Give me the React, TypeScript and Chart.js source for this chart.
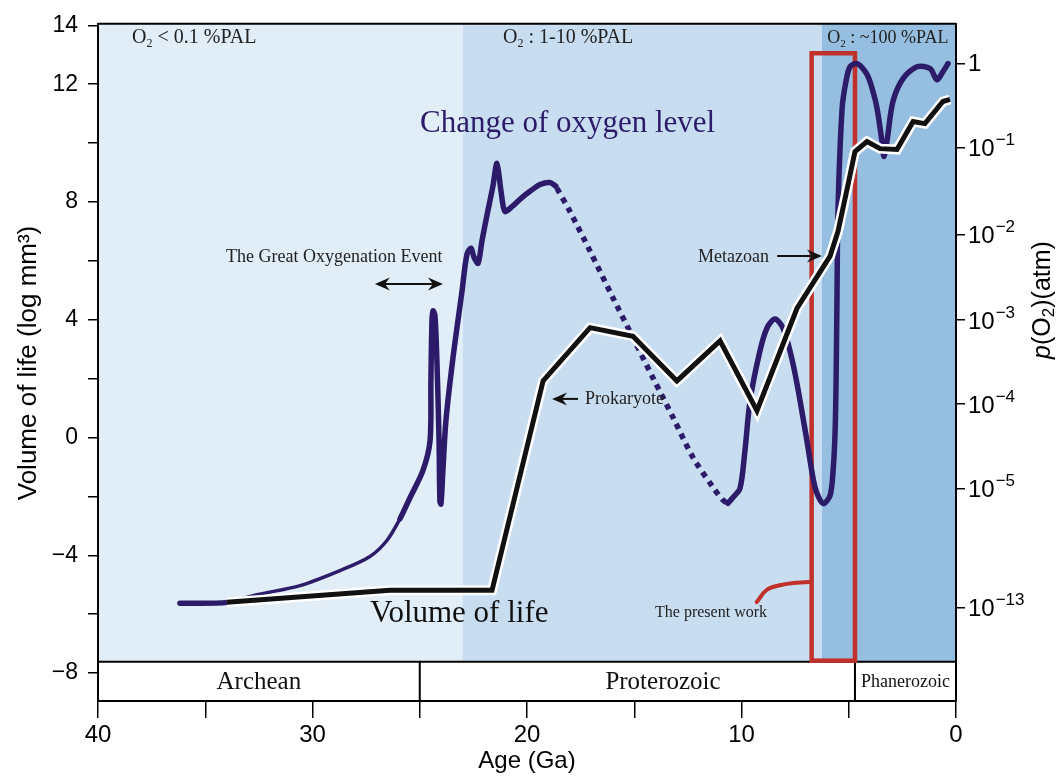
import React, { useEffect, useRef } from 'react';
import { Chart, registerables } from 'chart.js';

Chart.register(...registerables);

// ---------- data (age in the axis unit, value in log mm^3 on the left axis) ----------
const OXY_A_AGE = [36.18, 33.99, 32.59, 30.58, 28.72, 27.32, 26.53, 25.92, 25.45, 24.85, 24.52, 24.48, 24.43, 24.38, 24.29, 24.2, 24.1, 24.06, 24.01, 23.92, 23.78, 23.45, 23.03, 22.8, 22.61, 22.47, 22.28, 22.1, 21.86, 21.59, 21.4, 21.21, 21.03, 20.7, 20.33, 19.86, 19.39, 18.93, 18.65];
const OXY_A_VAL = [-5.63, -5.6, -5.34, -5.03, -4.52, -4.04, -3.5, -2.76, -2.04, -1.12, -0.11, 1.92, 3.96, 4.3, 4.13, 2.6, -0.11, -2.16, -2.26, -1.12, 0.57, 2.71, 4.97, 6.22, 6.43, 6.12, 5.92, 6.67, 7.57, 8.53, 9.31, 8.36, 7.68, 7.84, 8.09, 8.36, 8.59, 8.66, 8.53];

const OXY_B_AGE = [18.6, 18.0, 17.06, 15.99, 15.06, 14.13, 13.19, 12.26, 11.33, 10.86, 10.63];
const OXY_B_VAL = [8.46, 7.68, 6.33, 4.74, 3.39, 2.03, 0.68, -0.68, -1.69, -2.13, -2.24];

const OXY_C_AGE = [10.63, 10.4, 10.07, 9.84, 9.6, 9.14, 8.81, 8.44, 8.07, 7.74, 7.41, 6.95, 6.57, 6.2, 5.87, 5.73, 5.64, 5.59, 5.55, 5.5, 5.31, 5.13, 4.94, 4.62, 4.15, 3.87, 3.68, 3.45, 3.36, 3.22, 2.94, 2.47, 1.82, 1.21, 0.89, 0.61, 0.37];
const OXY_C_VAL = [-2.24, -2.04, -1.73, -0.45, 1.25, 2.94, 3.72, 4.02, 3.72, 2.94, 1.82, -0.11, -1.7, -2.24, -1.97, -1.13, 0.13, 1.92, 4.63, 7.78, 11.17, 12.09, 12.59, 12.7, 12.33, 11.75, 11.17, 10.05, 9.54, 10.05, 11.41, 12.19, 12.59, 12.53, 12.15, 12.42, 12.7];

const LIFE_AGE = [33.99, 26.39, 21.63, 19.25, 17.06, 15.06, 13.01, 11.0, 9.28, 7.41, 5.87, 5.5, 5.03, 4.71, 4.15, 3.54, 2.75, 2.0, 1.45, 0.61, 0.28];
const LIFE_VAL = [-5.6, -5.19, -5.19, 1.92, 3.73, 3.44, 1.92, 3.28, 0.91, 4.39, 6.16, 7.0, 8.6, 9.71, 10.05, 9.81, 9.78, 10.73, 10.66, 11.41, 11.48];

const WORK_AGE = [9.29, 8.83, 8.21, 7.43, 6.81];
const WORK_VAL = [-5.59, -5.18, -5.02, -4.93, -4.91];

// shaded oxygen-level bands: [fromAge, toAge]
const BAND_FROM = [40, 23, 6.26];
const BAND_TO = [23, 6.26, 0];
const BAND_COLORS = ['#e1edf7', '#c8ddf0', '#96bee1'];

// geological eons
const EON_NAMES = ['Archean', 'Proterozoic', 'Phanerozoic'];
const EON_BOUNDS = [25, 4.71];
const EON_LABEL_AGE = [32.5, 13.66, 2.35];

// the present-work window
const WORK_BOX_AGE = [6.73, 4.71];
const WORK_BOX_VAL = [-7.58, 13.05];

// axes
const X_TICKS = [0, 5, 10, 15, 20, 25, 30, 35, 40];
const X_LABELED = [0, 10, 20, 30, 40];
const Y_TICKS = [-8, -6, -4, -2, 0, 2, 4, 6, 8, 10, 12, 14];
const Y_LABELED = [-8, -4, 0, 4, 8, 12, 14];
const P_TICK_POS = [12.7, 9.85, 6.9, 3.99, 1.14, -1.73, -5.77];
const P_TICK_EXP = [0, -1, -2, -3, -4, -5, -13];
const Y_MIN = -8.95;
const Y_MAX = 14.05;
const TIMESCALE_TOP = -7.62;

const PURPLE = '#2c1b69';
const RED = '#c0312b';
const SANS = '"Liberation Sans", Arial, sans-serif';
const SERIF = '"Liberation Serif", "Times New Roman", serif';

const pts = (a: number[], v: number[]) => a.map((x, i) => ({ x, y: v[i] }));

function arrowHead(ctx: CanvasRenderingContext2D, x: number, y: number, dir: number) {
  ctx.beginPath();
  ctx.moveTo(x, y);
  ctx.lineTo(x - dir * 15, y - 6.5);
  ctx.lineTo(x - dir * 10, y);
  ctx.lineTo(x - dir * 15, y + 6.5);
  ctx.closePath();
  ctx.fill();
}

function drawO2(ctx: CanvasRenderingContext2D, x: number, y: number, rest: string, size: number) {
  ctx.font = `${size}px ${SERIF}`;
  ctx.textBaseline = 'alphabetic';
  ctx.textAlign = 'left';
  ctx.fillText('O', x, y);
  let cx = x + ctx.measureText('O').width;
  ctx.font = `${Math.round(size * 0.62)}px ${SERIF}`;
  ctx.fillText('2', cx, y + 4);
  cx += ctx.measureText('2').width;
  ctx.font = `${size}px ${SERIF}`;
  ctx.fillText(rest, cx, y);
}

const decorPlugin = {
  id: 'decor',
  beforeDraw(chart: any) {
    const { ctx, chartArea: ca, scales } = chart;
    const x = scales.x;
    const y = scales.y;
    ctx.save();
    const boxTop = y.getPixelForValue(TIMESCALE_TOP);
    // bands
    BAND_FROM.forEach((f: number, i: number) => {
      const x0 = x.getPixelForValue(f);
      const x1 = x.getPixelForValue(BAND_TO[i]);
      ctx.fillStyle = BAND_COLORS[i];
      ctx.fillRect(x0, ca.top, x1 - x0, boxTop - ca.top);
    });
    // timescale box
    ctx.fillStyle = '#fff';
    ctx.fillRect(ca.left, boxTop, ca.right - ca.left, ca.bottom - boxTop);
    ctx.strokeStyle = '#000';
    ctx.lineWidth = 2;
    ctx.beginPath();
    ctx.moveTo(ca.left, boxTop);
    ctx.lineTo(ca.right, boxTop);
    EON_BOUNDS.forEach((b) => {
      const bx = x.getPixelForValue(b);
      ctx.moveTo(bx, boxTop);
      ctx.lineTo(bx, ca.bottom);
    });
    ctx.stroke();
    ctx.fillStyle = '#111';
    ctx.textAlign = 'center';
    ctx.textBaseline = 'middle';
    const midY = (boxTop + ca.bottom) / 2;
    EON_NAMES.forEach((n, i) => {
      ctx.font = i === 2 ? `18px ${SERIF}` : `25px ${SERIF}`;
      ctx.fillText(n, x.getPixelForValue(EON_LABEL_AGE[i]), midY + 1);
    });
    // present-work window
    ctx.strokeStyle = RED;
    ctx.lineWidth = 4.5;
    const rx0 = x.getPixelForValue(WORK_BOX_AGE[0]);
    const rx1 = x.getPixelForValue(WORK_BOX_AGE[1]);
    const ry0 = y.getPixelForValue(WORK_BOX_VAL[1]);
    const ry1 = y.getPixelForValue(WORK_BOX_VAL[0]);
    ctx.strokeRect(rx0, ry0, rx1 - rx0, ry1 - ry0);
    // frame top
    ctx.strokeStyle = '#000';
    ctx.lineWidth = 2;
    ctx.beginPath();
    ctx.moveTo(ca.left, ca.top);
    ctx.lineTo(ca.right, ca.top);
    ctx.stroke();
    ctx.restore();
  },
  afterDraw(chart: any) {
    const { ctx, chartArea: ca, scales } = chart;
    const x = scales.x;
    const y = scales.y;
    const y2 = scales.y2;
    const X = (v: number) => x.getPixelForValue(v);
    const Y = (v: number) => y.getPixelForValue(v);
    ctx.save();
    // band headings
    ctx.fillStyle = '#222';
    drawO2(ctx, X(38.41), Y(13.4), ' < 0.1 %PAL', 20);
    drawO2(ctx, X(21.12), Y(13.4), ' : 1-10 %PAL', 20);
    drawO2(ctx, X(6.0), Y(13.4), ' : ~100 %PAL', 18);
    // curve titles
    ctx.font = `31px ${SERIF}`;
    ctx.fillStyle = PURPLE;
    ctx.textAlign = 'left';
    ctx.textBaseline = 'alphabetic';
    ctx.fillText('Change of oxygen level', X(24.99), Y(10.38));
    ctx.fillStyle = '#111';
    ctx.fillText('Volume of life', X(27.32), Y(-6.27));
    // annotations
    ctx.font = `18px ${SERIF}`;
    ctx.fillStyle = '#222';
    ctx.fillText('The Great Oxygenation Event', X(34.03), Y(5.96));
    ctx.fillText('Metazoan', X(12.03), Y(5.96));
    ctx.textBaseline = 'middle';
    ctx.fillText('Prokaryote', X(17.3), Y(1.31));
    ctx.font = `16px ${SERIF}`;
    ctx.fillText('The present work', X(14.03), Y(-5.94));
    // arrows
    ctx.strokeStyle = '#111';
    ctx.fillStyle = '#111';
    ctx.lineWidth = 2;
    const goeY = Y(5.21);
    ctx.beginPath();
    ctx.moveTo(X(27.09) + 8, goeY);
    ctx.lineTo(X(23.92) - 8, goeY);
    ctx.stroke();
    arrowHead(ctx, X(27.09), goeY, -1);
    arrowHead(ctx, X(23.92), goeY, 1);
    const mY = Y(6.16);
    ctx.beginPath();
    ctx.moveTo(X(8.34), mY);
    ctx.lineTo(X(6.25) - 8, mY);
    ctx.stroke();
    arrowHead(ctx, X(6.25), mY, 1);
    const pY = Y(1.31);
    ctx.beginPath();
    ctx.moveTo(X(18.83) + 8, pY);
    ctx.lineTo(X(17.62), pY);
    ctx.stroke();
    arrowHead(ctx, X(18.83), pY, -1);
    // right axis labels
    ctx.fillStyle = '#000';
    ctx.textAlign = 'left';
    ctx.textBaseline = 'middle';
    const lx = ca.right + 12;
    P_TICK_POS.forEach((v, i) => {
      const py = y2.getPixelForValue(v);
      ctx.font = `24px ${SANS}`;
      if (P_TICK_EXP[i] === 0) {
        ctx.fillText('1', lx, py + 1);
      } else {
        ctx.fillText('10', lx, py + 2);
        const w = ctx.measureText('10').width;
        ctx.font = `17px ${SANS}`;
        ctx.fillText('\u2212' + String(-P_TICK_EXP[i]), lx + w + 1, py - 7);
      }
    });
    // axis titles
    ctx.font = `24px ${SANS}`;
    ctx.textAlign = 'center';
    ctx.textBaseline = 'middle';
    ctx.fillText('Age (Ga)', (ca.left + ca.right) / 2, 761);
    ctx.save();
    ctx.translate(29, 363);
    ctx.rotate(-Math.PI / 2);
    ctx.font = `26px ${SANS}`;
    ctx.fillText('Volume of life (log mm\u00b3)', 0, 0);
    ctx.restore();
    // right title with subscript
    ctx.save();
    ctx.translate(1043, 300);
    ctx.rotate(-Math.PI / 2);
    const parts = [
      { t: 'p', f: `italic 25px ${SANS}`, dy: 0 },
      { t: '(O', f: `25px ${SANS}`, dy: 0 },
      { t: '2', f: `17px ${SANS}`, dy: 6 },
      { t: ')(atm)', f: `25px ${SANS}`, dy: 0 },
    ];
    let total = 0;
    parts.forEach((p) => { ctx.font = p.f; total += ctx.measureText(p.t).width; });
    let cx = -total / 2;
    ctx.textAlign = 'left';
    parts.forEach((p) => {
      ctx.font = p.f;
      ctx.fillText(p.t, cx, p.dy);
      cx += ctx.measureText(p.t).width;
    });
    ctx.restore();
    ctx.restore();
  },
};

export default function App() {
  const ref = useRef<HTMLCanvasElement>(null);
  useEffect(() => {
    if (!ref.current) return;
    const line = (data: any[], extra: any) => ({
      data,
      showLine: true,
      pointRadius: 0,
      pointHoverRadius: 0,
      fill: false,
      ...extra,
    });
    const chart = new Chart(ref.current, {
      type: 'scatter',
      data: {
        datasets: [
          line(pts(LIFE_AGE, LIFE_VAL), { borderColor: '#111', borderWidth: 5, tension: 0, borderJoinStyle: 'miter', order: 0 }),
          line(pts(LIFE_AGE, LIFE_VAL), { borderColor: '#ffffff', borderWidth: 10, tension: 0, borderJoinStyle: 'miter', order: 1 }),
          line(pts(WORK_AGE, WORK_VAL), { borderColor: RED, borderWidth: 4, tension: 0.4, borderCapStyle: 'round', order: 2 }),
          line(pts(OXY_A_AGE, OXY_A_VAL), {
            borderColor: PURPLE, borderWidth: 5.5, tension: 0.3, borderCapStyle: 'round', borderJoinStyle: 'round', order: 3,
            segment: { borderWidth: (c: any) => (c.p0.parsed.x < 34.5 && c.p0.parsed.x > 26.4 ? 3.5 : 5.5) },
          }),
          line(pts(OXY_B_AGE, OXY_B_VAL), { borderColor: PURPLE, borderWidth: 5.5, tension: 0.3, borderDash: [5.5, 5.5], borderCapStyle: 'butt', order: 3 }),
          line(pts(OXY_C_AGE, OXY_C_VAL), { borderColor: PURPLE, borderWidth: 5.5, tension: 0.3, borderCapStyle: 'round', borderJoinStyle: 'round', order: 3 }),
        ],
      },
      options: {
        responsive: false,
        animation: false,
        events: [],
        layout: { padding: { top: 22, left: 0, right: 0, bottom: 0 } },
        plugins: { legend: { display: false }, tooltip: { enabled: false } },
        scales: {
          x: {
            type: 'linear',
            reverse: true,
            min: 0,
            max: 40,
            afterBuildTicks: (s: any) => { s.ticks = X_TICKS.map((v) => ({ value: v })); },
            afterFit: (s: any) => { s.height = 75; },
            ticks: {
              autoSkip: false,
              maxRotation: 0,
              padding: 3,
              color: '#000',
              font: { family: SANS, size: 24 },
              callback: (v: any) => (X_LABELED.includes(Number(v)) ? String(v) : ''),
            },
            grid: { drawOnChartArea: false, drawTicks: true, tickLength: 17, color: '#000', lineWidth: 1.5 },
            border: { display: true, color: '#000', width: 2 },
          },
          y: {
            type: 'linear',
            position: 'left',
            min: Y_MIN,
            max: Y_MAX,
            afterBuildTicks: (s: any) => { s.ticks = Y_TICKS.map((v) => ({ value: v })); },
            afterFit: (s: any) => { s.width = 98; },
            ticks: {
              autoSkip: false,
              padding: 10,
              color: '#000',
              font: { family: SANS, size: 23 },
              callback: (v: any) => {
                const n = Number(v);
                if (!Y_LABELED.includes(n)) return '';
                return n < 0 ? '\u2212' + String(-n) : String(n);
              },
            },
            grid: { drawOnChartArea: false, drawTicks: true, tickLength: 10, color: '#000', lineWidth: 1.5 },
            border: { display: true, color: '#000', width: 2 },
          },
          y2: {
            type: 'linear',
            position: 'right',
            min: Y_MIN,
            max: Y_MAX,
            afterBuildTicks: (s: any) => { s.ticks = P_TICK_POS.map((v) => ({ value: v })); },
            afterFit: (s: any) => { s.width = 103; },
            ticks: { display: false },
            grid: { drawOnChartArea: false, drawTicks: true, tickLength: 9, color: '#000', lineWidth: 1.5 },
            border: { display: true, color: '#000', width: 2 },
          },
        },
      },
      plugins: [decorPlugin],
    } as any);
    return () => chart.destroy();
  }, []);
  return (
    <div style={{ position: 'absolute', left: 0, top: 0, width: 1059, height: 776, background: '#fff' }}>
      <canvas ref={ref} width={1059} height={776} style={{ display: 'block' }} />
    </div>
  );
}
